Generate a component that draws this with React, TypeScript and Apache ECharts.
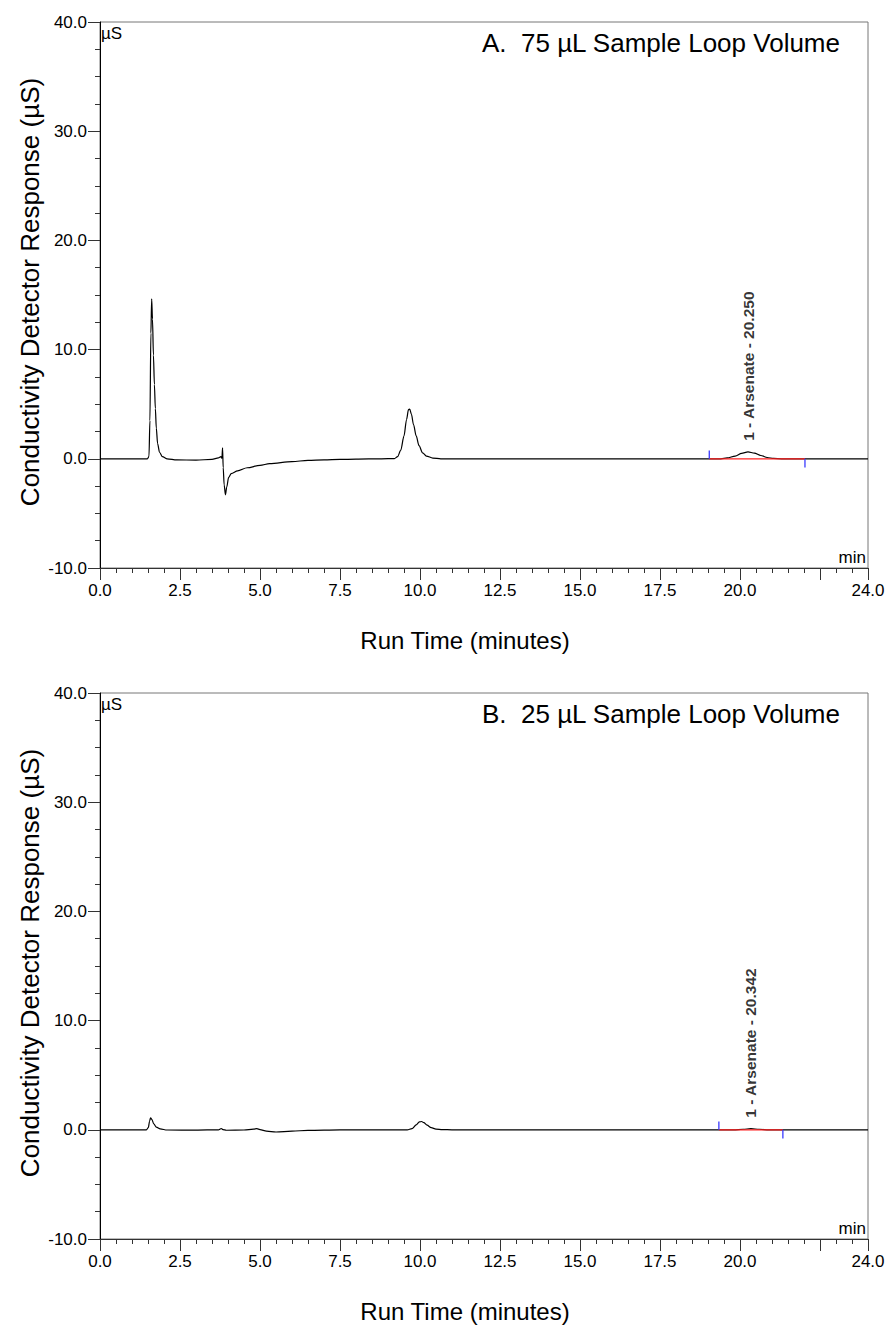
import React, { useEffect, useRef } from "react";
import * as echarts from "echarts";

// ---- data (time in minutes, response in µS) ----
const traceA: [number, number][] = [
  [0, 0], [1.48, 0], [1.53, 0.2], [1.56, 3.5], [1.59, 11.5], [1.615, 14.65], [1.64, 12.8],
  [1.67, 9.5], [1.7, 6.8], [1.73, 4.6], [1.76, 2.8], [1.8, 1.4], [1.86, 0.6], [1.95, 0.2],
  [2.1, 0.0], [2.4, -0.1], [3.0, -0.12], [3.5, -0.05], [3.7, 0.08], [3.78, 0.2], [3.81, 0.05],
  [3.83, 1.0], [3.85, -0.8], [3.88, -2.4], [3.92, -3.3], [3.96, -2.6], [4.02, -1.7],
  [4.1, -1.35], [4.3, -1.1], [4.6, -0.82], [5.0, -0.6], [5.3, -0.45], [6.0, -0.25],
  [6.5, -0.15], [7.0, -0.1], [7.5, -0.06], [8.0, -0.03], [8.8, 0], [9.2, 0.02], [9.3, 0.2],
  [9.4, 0.8], [9.5, 2.1], [9.58, 3.6], [9.64, 4.5], [9.68, 4.55], [9.73, 4.1], [9.8, 3.1],
  [9.88, 2.1], [9.97, 1.2], [10.08, 0.55], [10.2, 0.25], [10.4, 0.07], [10.65, 0], [19.4, 0],
  [19.6, 0.08], [19.85, 0.25], [20.05, 0.5], [20.25, 0.64], [20.45, 0.52], [20.65, 0.3],
  [20.85, 0.12], [21.05, 0.03], [21.3, 0], [24, 0]
];
const traceB: [number, number][] = [
  [0, 0], [1.45, 0], [1.51, 0.2], [1.55, 0.8], [1.58, 1.1], [1.62, 0.95], [1.68, 0.55],
  [1.76, 0.25], [1.88, 0.08], [2.1, -0.02], [3.0, -0.03], [3.7, 0], [3.79, 0.12], [3.84, 0.02],
  [3.95, -0.04], [4.5, -0.02], [4.8, 0.06], [4.9, 0.1], [5.0, 0.02], [5.2, -0.12], [5.5, -0.2],
  [6.0, -0.12], [6.5, -0.05], [7.5, 0], [9.6, 0], [9.75, 0.1], [9.88, 0.45], [9.98, 0.72],
  [10.05, 0.76], [10.12, 0.65], [10.22, 0.42], [10.35, 0.2], [10.5, 0.07], [10.7, 0.02], [11, 0],
  [19.8, 0], [20.1, 0.05], [20.34, 0.1], [20.6, 0.05], [20.9, 0], [24, 0]
];
const baselineA: [number, number][] = [[19.04, 0], [22.03, 0]];
const startMarkA: [number, number][] = [[19.04, 0], [19.04, 0.75]];
const endMarkA: [number, number][] = [[22.03, 0], [22.03, -0.8]];
const baselineB: [number, number][] = [[19.34, 0], [21.34, 0]];
const startMarkB: [number, number][] = [[19.34, 0], [19.34, 0.75]];
const endMarkB: [number, number][] = [[21.34, 0], [21.34, -0.8]];
const peakA: [number, number] = [20.25, 0.64];
const peakB: [number, number] = [20.342, 0.1];
const peakLabelA = "1 - Arsenate - 20.250";
const peakLabelB = "1 - Arsenate - 20.342";
const titles = ["A.\u00a0\u00a075 µL Sample Loop Volume", "B.\u00a0\u00a025 µL Sample Loop Volume"];
const yName = "Conductivity Detector Response (µS)";
const xName = "Run Time (minutes)";
const X_MIN = 0, X_MAX = 24, Y_MIN = -10, Y_MAX = 40;

const FONT = "'Liberation Sans', Arial, Helvetica, sans-serif";

export default function App() {
  const ref = useRef<HTMLDivElement>(null);
  useEffect(() => {
    document.body.style.margin = "0";
    const chart = echarts.init(ref.current!, null, { renderer: "svg" });
    const grids = [
      { left: 100, top: 22, width: 768, height: 546 },
      { left: 100, top: 693, width: 768, height: 546 }
    ];
    const xAxes: any[] = [];
    const yAxes: any[] = [];
    grids.forEach((_, g) => {
      xAxes.push({
        type: "value", gridIndex: g, min: X_MIN, max: X_MAX, interval: 2.5, position: "bottom",
        axisLine: { show: true, onZero: false, lineStyle: { color: "#333", width: 1 } },
        axisTick: { show: true, length: 12, lineStyle: { color: "#333" } },
        axisLabel: {
          show: true, margin: 14, fontSize: 17, color: "#000", fontFamily: FONT,
          showMaxLabel: true, showMinLabel: true, hideOverlap: false,
          formatter: (v: number) => (Math.abs(v - 22.5) < 1e-6 ? "" : v.toFixed(1))
        },
        splitLine: { show: false }
      });
      xAxes.push({
        type: "value", gridIndex: g, min: X_MIN, max: X_MAX, interval: 0.5, position: "bottom",
        axisLine: { show: false, onZero: false },
        axisTick: { show: true, length: 5, lineStyle: { color: "#333" } },
        axisLabel: { show: false },
        splitLine: { show: false }
      });
      yAxes.push({
        type: "value", gridIndex: g, min: Y_MIN, max: Y_MAX, interval: 10, position: "left",
        axisLine: { show: true, onZero: false, lineStyle: { color: "#000", width: 1 } },
        axisTick: { show: true, length: 12, lineStyle: { color: "#333" } },
        axisLabel: {
          show: true, margin: 13, fontSize: 17, color: "#000", fontFamily: FONT,
          formatter: (v: number) => v.toFixed(1)
        },
        splitLine: { show: false }
      });
      yAxes.push({
        type: "value", gridIndex: g, min: Y_MIN, max: Y_MAX, interval: 2.5, position: "left",
        axisLine: { show: false, onZero: false },
        axisTick: { show: true, length: 5, lineStyle: { color: "#333" } },
        axisLabel: { show: false },
        splitLine: { show: false }
      });
    });

    const traces = [traceA, traceB];
    const baselines = [baselineA, baselineB];
    const starts = [startMarkA, startMarkB];
    const ends = [endMarkA, endMarkB];
    const peaks = [peakA, peakB];
    const peakLabels = [peakLabelA, peakLabelB];
    const series: any[] = [];
    traces.forEach((tr, g) => {
      const xi = g * 2, yi = g * 2;
      series.push({
        type: "line", xAxisIndex: xi, yAxisIndex: yi, data: tr, showSymbol: false, symbol: "none",
        smooth: 0.3, smoothMonotone: "x", lineStyle: { color: "#000", width: 1.2 }, z: 3
      });
      series.push({
        type: "line", xAxisIndex: xi, yAxisIndex: yi, data: baselines[g], showSymbol: false,
        symbol: "none", lineStyle: { color: "#ff2020", width: 1.3 }, z: 4
      });
      series.push({
        type: "line", xAxisIndex: xi, yAxisIndex: yi, data: starts[g], showSymbol: false,
        symbol: "none", lineStyle: { color: "#3a3aff", width: 1.3 }, z: 4
      });
      series.push({
        type: "line", xAxisIndex: xi, yAxisIndex: yi, data: ends[g], showSymbol: false,
        symbol: "none", lineStyle: { color: "#3a3aff", width: 1.3 }, z: 4
      });
      series.push({
        type: "scatter", xAxisIndex: xi, yAxisIndex: yi, data: [peaks[g]], symbolSize: 0, z: 5,
        label: {
          show: true, formatter: peakLabels[g], position: "top", distance: 11, rotate: 90,
          align: "left", verticalAlign: "middle", fontSize: 15.5, fontWeight: "bold",
          color: "#000", fontFamily: FONT
        }
      });
    });

    const graphic: any[] = [];
    grids.forEach((gr, g) => {
      const top = gr.top, bottom = gr.top + gr.height, right = gr.left + gr.width;
      graphic.push({
        type: "text", x: gr.left + 1, y: top + 3,
        style: { text: "µS", font: `17px ${FONT}`, fill: "#000", textAlign: "left", textVerticalAlign: "top" }
      });
      graphic.push({
        type: "text", x: right - 2, y: bottom - 2,
        style: { text: "min", font: `17px ${FONT}`, fill: "#000", textAlign: "right", textVerticalAlign: "bottom" }
      });
      graphic.push({
        type: "text", x: 840, y: top + 21,
        style: { text: titles[g], font: `26px ${FONT}`, fill: "#000", textAlign: "right", textVerticalAlign: "middle" }
      });
      graphic.push({
        type: "text", x: 30, y: (top + bottom) / 2 - 3, rotation: Math.PI / 2,
        style: { text: yName, font: `26px ${FONT}`, fill: "#000", textAlign: "center", textVerticalAlign: "middle" }
      });
      graphic.push({
        type: "text", x: 465, y: bottom + 72,
        style: { text: xName, font: `24px ${FONT}`, fill: "#000", textAlign: "center", textVerticalAlign: "middle" }
      });
    });

    chart.setOption({
      animation: false,
      backgroundColor: "#fff",
      textStyle: { fontFamily: FONT },
      grid: grids.map((gr) => ({ ...gr, show: true, borderColor: "#777", borderWidth: 1, backgroundColor: "transparent" })),
      xAxis: xAxes,
      yAxis: yAxes,
      series,
      graphic
    });
    return () => chart.dispose();
  }, []);
  return <div ref={ref} style={{ width: 891, height: 1327 }} />;
}
